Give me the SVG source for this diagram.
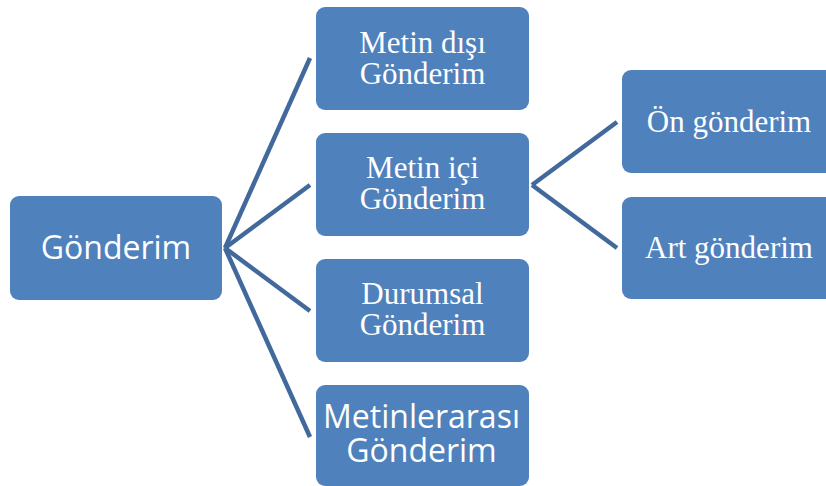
<svg xmlns="http://www.w3.org/2000/svg" width="826" height="486" viewBox="0 0 826 486">
<style>
.box{fill:#4F81BD;}
.conn{stroke:#41699C;stroke-width:4.5;fill:none;stroke-linecap:butt;}
.serif{font-family:"Liberation Serif","Times New Roman",serif;font-size:31px;fill:#FFFFFF;text-anchor:middle;}
.sans{font-family:"Open Sans","Liberation Sans",sans-serif;font-size:32px;fill:#FFFFFF;text-anchor:middle;}
</style>
<rect width="826" height="486" fill="#FFFFFF"/>
<g id="connectors">
<path class="conn" d="M225,248 L310,58"/>
<path class="conn" d="M225,248 L310,185"/>
<path class="conn" d="M225,248 L310,311"/>
<path class="conn" d="M225,248 L310,437"/>
<path class="conn" d="M532,185 L617,122"/>
<path class="conn" d="M532,185 L617,248"/>
</g>
<g id="gonderim">
<rect class="box" x="10" y="196" width="212" height="104" rx="9"/>
<text class="sans" x="116" y="259">Gönderim</text>
</g>
<g id="metin-disi">
<rect class="box" x="316" y="7" width="213" height="103" rx="9"/>
<text class="serif" x="422.5" y="53">Metin dışı</text>
<text class="serif" x="422.5" y="84">Gönderim</text>
</g>
<g id="metin-ici">
<rect class="box" x="316" y="133" width="213" height="103" rx="9"/>
<text class="serif" x="422.5" y="178">Metin içi</text>
<text class="serif" x="422.5" y="209">Gönderim</text>
</g>
<g id="durumsal">
<rect class="box" x="316" y="259" width="213" height="103" rx="9"/>
<text class="serif" x="422.5" y="304">Durumsal</text>
<text class="serif" x="422.5" y="335">Gönderim</text>
</g>
<g id="metinlerarasi">
<rect class="box" x="316" y="385" width="213" height="101" rx="9"/>
<text class="sans" x="421.5" y="428">Metinlerarası</text>
<text class="sans" x="421.5" y="462">Gönderim</text>
</g>
<g id="on-gonderim">
<rect class="box" x="622" y="70" width="214" height="103" rx="9"/>
<text class="serif" x="729" y="132">Ön gönderim</text>
</g>
<g id="art-gonderim">
<rect class="box" x="622" y="197" width="214" height="102" rx="9"/>
<text class="serif" x="729" y="258">Art gönderim</text>
</g>
</svg>
